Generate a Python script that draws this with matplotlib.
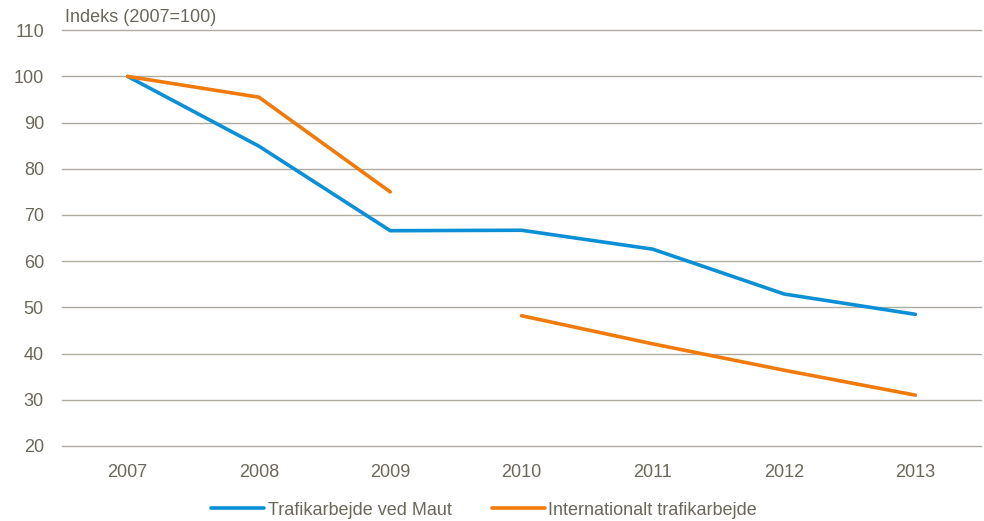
import numpy as np
import matplotlib
matplotlib.use('Agg')
import matplotlib.pyplot as plt

years = ['2007', '2008', '2009', '2010', '2011', '2012', '2013']
maut = [100, 84.9, 66.6, 66.7, 62.6, 52.9, 48.5]
international = [100, 95.5, 75.0, 48.2, 42.1, 36.4, 31.0]
# the international series is broken between 2009 and 2010
break_after = 2
yticks = [20, 30, 40, 50, 60, 70, 80, 90, 100, 110]

plt.rcParams['font.family'] = ['Liberation Sans', 'DejaVu Sans']
text_color = '#6b675b'
grid_color = '#aeac9f'
blue = '#0b8fd6'
orange = '#f07a0c'

fig = plt.figure(figsize=(9.84, 5.21), dpi=100)
ax = fig.add_axes([0.063, 0.144, 0.934, 0.798])

x = np.arange(len(years))
ax.plot(x, maut, color=blue, linewidth=2.6, solid_capstyle='round',
        label='Trafikarbejde ved Maut')
ax.plot(x[:break_after + 1], international[:break_after + 1], color=orange,
        linewidth=2.6, solid_capstyle='round', label='Internationalt trafikarbejde')
ax.plot(x[break_after + 1:], international[break_after + 1:], color=orange,
        linewidth=2.6, solid_capstyle='round')

ax.set_xlim(-0.5, len(years) - 0.5)
ax.set_ylim(20, 110)
ax.set_xticks(x)
ax.set_xticklabels(years)
ax.set_yticks(yticks)
ax.yaxis.grid(True, color=grid_color, linewidth=1)
for gl in ax.get_ygridlines():
    gl.set_clip_on(False)
ax.set_axisbelow(True)
for s in ax.spines.values():
    s.set_visible(False)
ax.tick_params(length=0, labelsize=13, colors=text_color)
ax.tick_params(axis='x', pad=13)
ax.tick_params(axis='y', pad=13)

ax.text(0.003, 1.01, 'Indeks (2007=100)', transform=ax.transAxes,
        fontsize=13, color=text_color, va='bottom', ha='left')

leg = fig.legend(loc='lower center', bbox_to_anchor=(0.492, -0.027), ncol=2,
                 frameon=False, fontsize=13, handlelength=2.95, handletextpad=0.2,
                 columnspacing=2.2)
for t in leg.get_texts():
    t.set_color(text_color)

fig.savefig('out.png', dpi=100)
